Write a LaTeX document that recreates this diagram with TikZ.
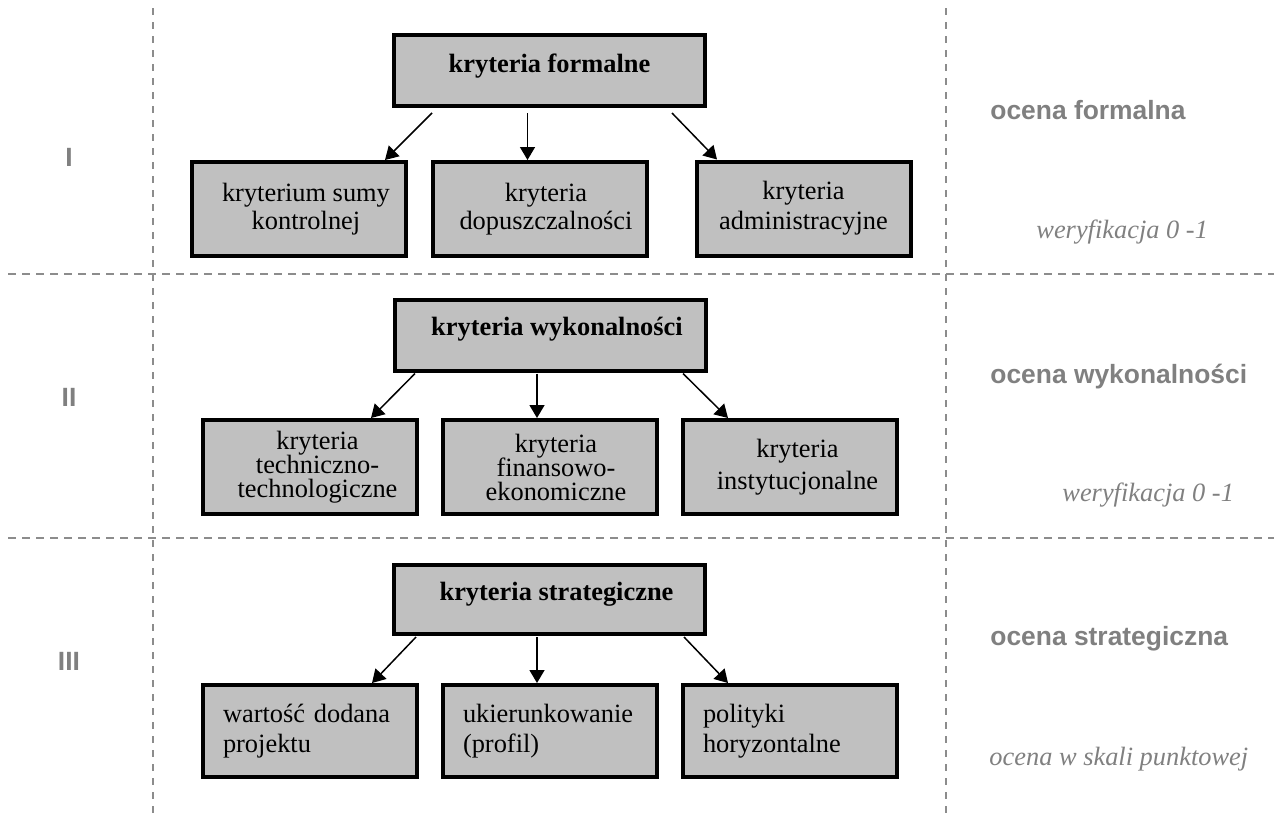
\documentclass[tikz,border=0pt]{standalone}
\usepackage{fontspec}
\setmainfont{Liberation Serif}
\setsansfont{Liberation Sans}
\usetikzlibrary{arrows.meta}
\definecolor{boxgray}{HTML}{C0C0C0}
\definecolor{labgray}{HTML}{808080}
\definecolor{dashgray}{HTML}{8C8C8C}
\newcommand{\cellc}[3]{\hspace*{#1}\vbox{\baselineskip=#2\lineskiplimit=-20pt\lineskip=0pt\halign{\hfil##\hfil\cr#3\crcr}}}
\begin{document}
\begin{tikzpicture}[x=0.5pt,y=-0.5pt,
  box/.style={draw=black,fill=boxgray,line width=2pt,inner sep=0pt,outer sep=0pt,font=\fontsize{13.2}{14}\selectfont},
  topbox/.style={box,minimum width=155.5pt,minimum height=35.5pt,font=\fontsize{13.2}{14}\selectfont\bfseries},
  kid/.style={box,minimum width=107pt,minimum height=47pt},
  kidl/.style={box,minimum height=46pt,text width=87pt,inner xsep=10pt,inner ysep=0pt,align=left,font=\fontsize{13.2}{15}\selectfont},
  arr/.style={line width=0.75pt,-{Triangle[length=6.5pt,width=7.5pt]}},
  vdash/.style={draw=dashgray,line width=1pt,dash pattern=on 3.5pt off 3.5pt},
  hdash/.style={draw=dashgray,line width=1pt,dash pattern=on 4pt off 3pt},
  roman/.style={font=\fontsize{13.2}{15}\selectfont\sffamily\bfseries,text=labgray,anchor=base,inner sep=0pt},
  ocena/.style={font=\fontsize{13.2}{15}\selectfont\sffamily\bfseries,text=labgray,anchor=base west,inner sep=0pt},
  note/.style={font=\fontsize{13.2}{15}\selectfont\itshape,text=labgray,anchor=base west,inner sep=0pt}]
\useasboundingbox (0,0) rectangle (1274,820);

% dashed grid
\draw[vdash] (153,8) -- (153,815);
\draw[vdash] (946,8) -- (946,815);
\draw[hdash] (8,274) -- (1274,274);
\draw[hdash] (8,538) -- (1274,538);

% Section I
\node[topbox,text height=10pt,text depth=8.5pt] (f) at (549.5,70.5) {kryteria formalne};
\node[kid] (f1) at (299,209) {\cellc{7pt}{14pt}{kryterium sumy\cr kontrolnej}};
\node[kid] (f2) at (540,209) {\cellc{6pt}{14pt}{kryteria\cr dopuszczalności}};
\node[kid] (f3) at (803.5,208.5) {\cellc{0pt}{15pt}{kryteria\cr administracyjne}};
\draw[arr] ([xshift=-58.75pt,yshift=-3.5pt]f.south) -- ([xshift=43pt,yshift=1pt]f1.north);
\draw[arr] ([xshift=-11pt,yshift=-3.5pt]f.south) -- ([xshift=-6.25pt,yshift=1pt]f2.north);
\draw[arr] ([xshift=61.25pt,yshift=-3.5pt]f.south) -- ([xshift=-43.25pt,yshift=1pt]f3.north);

% Section II
\node[topbox,text height=10pt,text depth=10pt] (w) at (550,335) {\hspace*{7pt}kryteria wykonalności};
\node[kid] (w1) at (309.5,467) {\cellc{8pt}{12pt}{kryteria\cr techniczno-\cr technologiczne}};
\node[kid] (w2) at (550,467) {\cellc{6pt}{12pt}{kryteria\cr finansowo-\cr ekonomiczne}};
\node[kid] (w3) at (790,467) {\cellc{7.5pt}{16pt}{kryteria\cr instytucjonalne}};
\draw[arr] ([xshift=-67.5pt,yshift=-1.5pt]w.south) -- ([xshift=30.75pt,yshift=1pt]w1.north);
\draw[arr] ([xshift=-6.5pt,yshift=-1.5pt]w.south) -- ([xshift=-6.5pt,yshift=1pt]w2.north);
\draw[arr] ([xshift=66.5pt,yshift=-1.5pt]w.south) -- ([xshift=-31pt,yshift=1pt]w3.north);

% Section III
\node[topbox,minimum height=34.5pt,text height=10pt,text depth=9.5pt] (s) at (549.5,599.5) {\hspace*{7pt}kryteria strategiczne};
\node[kidl] (s1) at (310,731) {wartość dodana\\projektu};
\node[kidl] (s2) at (550,731) {ukierunkowanie\\(profil)};
\node[kidl] (s3) at (790,731) {polityki\\horyzontalne};
\draw[arr] ([xshift=-66.75pt,yshift=-1.5pt]s.south) -- ([xshift=31pt,yshift=1pt]s1.north);
\draw[arr] ([xshift=-6.25pt,yshift=-1.5pt]s.south) -- ([xshift=-6.5pt,yshift=1pt]s2.north);
\draw[arr] ([xshift=67.25pt,yshift=-1.5pt]s.south) -- ([xshift=-31pt,yshift=1pt]s3.north);

% left numerals
\node[roman] (r1) at (69,166) {I};
\node[roman] (r2) at (69,406) {II};
\node[roman] (r3) at (69,670) {III};

% right column
\node[ocena] (o1) at (990,119) {ocena formalna};
\node[note] (n1) at (1036,238) {weryfikacja 0 -1};
\node[ocena] (o2) at (990,383) {ocena wykonalności};
\node[note] (n2) at (1062,501) {weryfikacja 0 -1};
\node[ocena] (o3) at (990,645) {ocena strategiczna};
\node[note] (n3) at (989,765) {ocena w skali punktowej};
\end{tikzpicture}
\end{document}
